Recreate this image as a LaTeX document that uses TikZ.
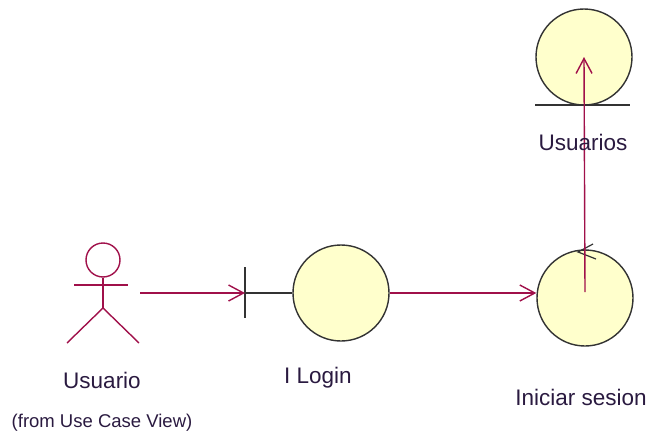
\documentclass[tikz,border=0pt]{standalone}
\usepackage{fontspec}
\setmainfont{Liberation Sans}
\usetikzlibrary{arrows.meta}
\definecolor{conn}{HTML}{A0104A}
\definecolor{fillc}{HTML}{FFFFCC}
\definecolor{txt}{HTML}{2A1A40}
\tikzset{
  conn/.style={draw=conn, line width=1.4pt},
  arr/.style={conn, -{Straight Barb[length=15pt,width=16pt,line width=1.4pt]}},
  obj/.style={circle, draw=black!80, fill=fillc, line width=1.4pt, minimum size=96pt, inner sep=0pt},
  lbl/.style={text=txt, font=\fontsize{22.5}{26}\selectfont, inner sep=0pt},
  smlbl/.style={text=txt, font=\fontsize{18.5}{22}\selectfont, inner sep=0pt},
}
\begin{document}
\begin{tikzpicture}[x=1pt,y=-1pt]
\useasboundingbox (0,0) rectangle (656,439);
% actor
\node[circle, draw=conn, line width=1.4pt, minimum size=34pt, inner sep=0pt] (head) at (103,260) {};
\coordinate (hip) at (103,308);
\coordinate (armL) at (74,285);
\coordinate (armR) at (128,285);
\coordinate (legL) at (67,343);
\coordinate (legR) at (139,343);
\draw[conn] (head.south) -- (hip);
\draw[conn] (armL) -- (armR);
\draw[conn] (legL) -- (hip) -- (legR);
\coordinate (actorout) at (140,293);
% boundary
\node[obj] (ilogin) at (341,293) {};
\coordinate (bar) at (245,293);
\coordinate (barT) at (245,267);
\coordinate (barB) at (245,318);
\draw[black!80, line width=1.4pt] (barT) -- (barB);
\draw[black!80, line width=1.4pt] (bar) -- (ilogin.west);
% control
\node[obj] (iniciar) at (585,298) {};
\coordinate (cm) at (578,252);
\draw[black!80, line width=1.2pt] (593,244) -- (cm) -- (596,259);
% entity
\node[obj] (usuarios) at (584,57) {};
\coordinate (entL) at (535,105);
\coordinate (entR) at (630,105);
\draw[black!80, line width=1.4pt] (entL) -- (entR);
% connectors
\coordinate (cstart) at (585,292);
\draw[arr] (actorout) -- (bar);
\draw[arr] (ilogin.east) -- (iniciar.west |- ilogin.east);
\draw[arr] (cstart) -- (usuarios.center);
% labels
\node[lbl] (tu) at (102,380) {Usuario};
\node[smlbl] (tfrom) at (102,423) {(from Use Case View)};
\node[lbl] (tl) at (318,378) {I Login};
\node[lbl] (ti) at (581,397) {Iniciar sesion};
\node[lbl] (tus) at (583,142) {Usuarios};
\end{tikzpicture}
\end{document}
